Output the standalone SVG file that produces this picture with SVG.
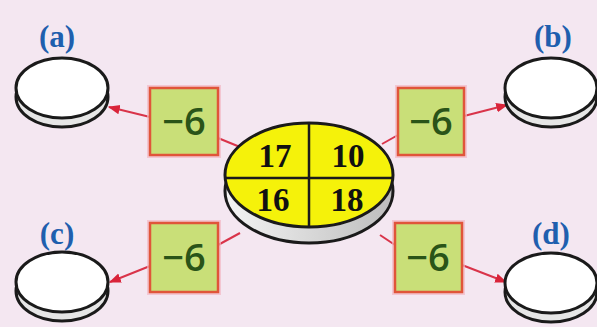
<svg xmlns="http://www.w3.org/2000/svg" width="597" height="327" viewBox="0 0 597 327">
<defs>
<style>
.lbl{font-family:"Liberation Serif","DejaVu Serif",serif;font-weight:bold;font-size:31px;fill:#1f5fae;text-anchor:middle}
.box{fill:#c9df78;stroke:#e0553a;stroke-width:2.5}
.glow{fill:none;stroke:#f2b8c4;stroke-width:6;opacity:0.7}
.op{font-family:"Open Sans","Liberation Sans",sans-serif;font-weight:600;font-size:38px;fill:#2a5418;text-anchor:middle}
.disc{fill:#ffffff;stroke:#1a1a1a;stroke-width:3}
.base{fill:#e6e6e6;stroke:#1a1a1a;stroke-width:3}
.num{font-family:"Liberation Serif","DejaVu Serif",serif;font-weight:bold;font-size:33px;fill:#111;text-anchor:middle}
.con{stroke:#d9344a;stroke-width:2;fill:none}
</style>
<marker id="ahb" viewBox="0 0 10 10" refX="9" refY="5" markerWidth="12" markerHeight="12" orient="auto" markerUnits="userSpaceOnUse">
<path d="M0,1 L10,5 L0,9 z" fill="#d9243a"/>
</marker>
<linearGradient id="cbase" x1="0" y1="0" x2="1" y2="0">
<stop offset="0" stop-color="#f4f4f4"/>
<stop offset="1" stop-color="#bdbdbd"/>
</linearGradient>
</defs>
<rect width="597" height="327" fill="#f4e7f1"/>

<g id="connectors">
<line class="con" x1="218" y1="138" x2="240" y2="147"/>
<line class="con" x1="398" y1="135" x2="382" y2="144"/>
<line class="con" x1="218" y1="245" x2="240" y2="233"/>
<line class="con" x1="395" y1="245" x2="380" y2="235"/>
<line class="con" x1="150" y1="117" x2="109" y2="107" marker-end="url(#ahb)"/>
<line class="con" x1="464" y1="116" x2="507" y2="105" marker-end="url(#ahb)"/>
<line class="con" x1="150" y1="266" x2="110" y2="282" marker-end="url(#ahb)"/>
<line class="con" x1="462" y1="265" x2="506" y2="282" marker-end="url(#ahb)"/>
</g>

<g id="center">
<ellipse class="base" cx="309" cy="191" rx="84" ry="52" style="fill:url(#cbase)"/>
<ellipse cx="309" cy="175" rx="84" ry="52" fill="#f5f20a" stroke="#1a1a1a" stroke-width="3"/>
<line x1="309" y1="123" x2="309" y2="227" stroke="#1a1a1a" stroke-width="2.5"/>
<line x1="226" y1="178" x2="392" y2="178" stroke="#1a1a1a" stroke-width="2.5"/>
<text class="num" x="275" y="167">17</text>
<text class="num" x="348" y="167">10</text>
<text class="num" x="273" y="211">16</text>
<text class="num" x="347" y="211">18</text>
</g>

<g id="node-a">
<text class="lbl" x="57" y="47">(a)</text>
<ellipse class="base" cx="62" cy="97" rx="46" ry="30"/>
<ellipse class="disc" cx="62" cy="88" rx="46" ry="30"/>
</g>
<g id="node-b">
<text class="lbl" x="553" y="47">(b)</text>
<ellipse class="base" cx="551" cy="97" rx="46" ry="30"/>
<ellipse class="disc" cx="551" cy="88" rx="46" ry="30"/>
</g>
<g id="node-c">
<text class="lbl" x="57" y="244">(c)</text>
<ellipse class="base" cx="62" cy="291" rx="46" ry="30"/>
<ellipse class="disc" cx="62" cy="282" rx="46" ry="30"/>
</g>
<g id="node-d">
<text class="lbl" x="551" y="244">(d)</text>
<ellipse class="base" cx="551" cy="292" rx="46" ry="30"/>
<ellipse class="disc" cx="551" cy="283" rx="46" ry="30"/>
</g>

<g id="op-a">
<rect class="glow" x="150" y="88" width="68" height="67"/>
<rect class="box" x="150" y="88" width="68" height="67"/>
<text class="op" x="184" y="135">−6</text>
</g>
<g id="op-b">
<rect class="glow" x="398" y="88" width="66" height="67"/>
<rect class="box" x="398" y="88" width="66" height="67"/>
<text class="op" x="431" y="135">−6</text>
</g>
<g id="op-c">
<rect class="glow" x="150" y="223" width="68" height="69"/>
<rect class="box" x="150" y="223" width="68" height="69"/>
<text class="op" x="184" y="271">−6</text>
</g>
<g id="op-d">
<rect class="glow" x="395" y="223" width="67" height="69"/>
<rect class="box" x="395" y="223" width="67" height="69"/>
<text class="op" x="428" y="271">−6</text>
</g>
</svg>
